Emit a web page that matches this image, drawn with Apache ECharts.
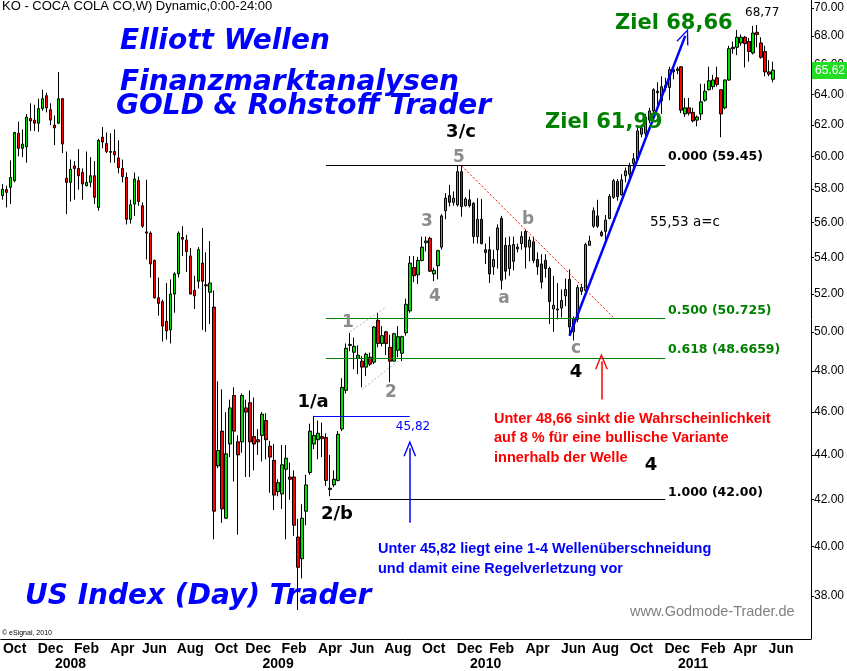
<!DOCTYPE html>
<html>
<head>
<meta charset="utf-8">
<script src="https://cdn.jsdelivr.net/npm/echarts@6/dist/echarts.min.js"></script>
<style>
html,body{margin:0;padding:0;background:#fff;}
#chart{width:847px;height:671px;}
</style>
</head>
<body>
<div id="chart"></div>
<script>
// ---- data: weekly KO candles (Sep 2007 - May 2011) ----
const startWeek = '2007-09-10';
const weekCount = 203;
const monthNames = ['Jan','Feb','Mar','Apr','May','Jun','Jul','Aug','Sep','Oct','Nov','Dec'];
const yTicks = [38,40,42,44,46,48,50,52,54,56,58,60,62,64,66,68,70];

const opens = [57.6,57.96,58.1,58.5,61.45,60.5,60.6,62.4,62.3,62.1,
63.05,63.9,62.97,61.98,62.1,63.7,58.65,58.4,59.4,59.25,
59.0,58.2,58.4,58.8,56.9,61.2,60.8,60.3,60.3,59.9,
59.25,58.7,56.2,57.1,58.5,57.0,55.47,55.4,53.85,51.8,
51.6,50.55,50.1,52.0,53.1,55.15,55.0,54.1,52.2,52.7,
53.7,52.5,52.1,51.3,43.5,45.1,41.2,44.5,46.8,44.6,
44.6,46.2,46.45,44.85,44.7,44.9,45.6,44.4,43.75,42.35,
42.25,43.35,43.0,43.0,40.4,39.5,41.5,43.2,44.5,44.7,
44.85,44.8,42.5,42.65,42.85,45.2,47.05,49.3,48.95,48.65,
48.5,48.2,48.7,48.45,50.6,49.4,50.0,49.2,48.5,49.05,
48.9,49.95,51.1,53.45,53.05,53.85,54.85,55.1,53.1,53.55,
54.6,56.7,57.6,57.2,57.05,59.05,57.0,57.35,57.15,55.2,
56.2,54.45,54.45,53.5,54.45,56.25,54.7,53.4,53.8,54.5,
54.8,55.5,54.6,54.9,53.9,53.65,53.85,53.4,51.2,51.2,
51.25,51.9,52.8,50.7,50.65,52.15,52.2,54.7,55.8,56.4,
55.45,55.5,56.25,57.5,58.45,57.65,58.8,58.9,59.55,59.8,
61.4,61.45,62.3,62.9,64.1,63.55,64.45,64.45,65.65,65.6,
65.85,62.7,63.1,62.8,62.3,62.7,63.6,64.3,64.5,65.1,
64.3,63.1,64.95,67.1,67.2,67.5,67.9,67.6,66.8,68.25,
67.5,66.9,65.5,65.0];

const closes = [57.98,57.8,58.7,61.5,60.5,60.77,62.5,62.25,62.1,63.05,
63.7,63.1,62.3,61.8,63.7,60.77,58.4,59.2,59.25,58.8,
58.3,58.4,58.8,57.5,61.0,60.9,60.3,60.25,60.1,59.3,
58.75,56.2,57.05,58.6,57.25,55.8,55.4,53.65,51.8,51.5,
50.3,50.05,52.0,53.1,55.4,55.05,54.35,52.0,51.9,54.45,
52.7,52.45,52.6,41.5,44.2,41.6,44.05,46.2,45.1,44.0,
46.8,46.0,44.6,44.5,44.6,45.9,44.7,43.9,42.2,42.75,
43.55,43.85,42.9,40.9,39.15,41.2,42.65,45.1,44.9,45.0,
44.75,42.85,42.45,42.9,44.95,47.2,49.15,49.35,49.25,48.8,
48.2,48.85,48.35,50.25,49.4,49.8,49.4,48.5,49.9,49.75,
49.75,51.45,53.7,53.0,53.85,54.6,54.95,53.25,53.3,54.4,
56.4,57.45,57.2,57.45,59.05,56.95,57.4,57.0,55.2,56.2,
54.8,54.3,53.1,53.9,55.7,52.75,53.25,54.7,54.75,54.6,
55.2,54.6,55.0,53.85,53.5,52.65,53.4,51.6,51.4,51.15,
51.65,52.25,50.25,50.0,52.35,52.35,54.75,54.95,56.7,55.8,
55.25,56.15,57.55,58.5,57.55,58.55,59.1,59.4,59.85,61.6,
61.8,62.5,62.9,64.3,64.2,64.5,64.6,65.65,65.5,65.7,
62.95,63.1,62.75,62.25,62.5,63.5,64.2,64.9,64.95,64.65,
62.7,64.95,67.1,67.2,67.9,67.9,67.45,66.9,68.2,68.1,
66.5,65.5,65.35,65.62];

const lows = [57.36,56.9,57.1,58.4,60.0,59.95,59.6,61.6,61.6,61.55,
62.9,62.8,61.98,60.7,62.05,60.2,56.5,57.25,57.36,57.96,
57.36,58.15,58.1,57.1,56.7,60.5,60.2,59.6,59.6,58.95,
58.4,55.9,55.95,56.4,57.0,55.7,53.9,52.9,51.75,50.85,
49.5,49.6,49.4,51.0,52.9,54.1,53.2,52.0,51.2,52.3,
50.1,50.0,50.4,40.3,43.4,41.0,41.17,43.9,42.8,40.5,
44.1,43.0,43.0,43.3,44.0,43.7,43.8,42.3,41.55,42.15,
41.6,40.3,42.0,40.45,37.45,38.7,40.9,43.1,44.26,43.8,
43.9,42.6,42.15,42.55,42.8,45.1,46.9,49.0,48.1,47.85,
47.2,47.75,48.25,48.35,49.2,49.25,48.8,47.45,48.5,48.7,
48.5,49.8,51.0,52.65,52.55,53.8,54.35,53.2,52.7,52.8,
54.46,56.2,56.95,57.0,56.95,56.35,56.95,56.9,54.8,54.8,
54.75,53.65,52.6,53.05,53.4,52.25,52.8,53.0,53.3,54.3,
54.45,53.4,53.8,53.7,53.05,52.3,52.9,50.4,50.0,50.65,
50.75,51.35,49.8,49.55,50.5,51.95,52.05,54.7,55.7,55.7,
55.2,55.0,56.2,57.4,57.3,57.6,58.4,58.7,59.0,59.7,
61.2,61.3,62.1,62.75,63.3,62.7,64.2,63.6,65.0,65.35,
62.75,62.5,62.6,62.15,61.9,62.3,63.5,64.25,64.3,64.5,
61.2,63.0,64.9,66.75,66.65,67.3,65.8,66.2,66.7,67.2,
66.4,65.2,65.2,64.8];

const highs = [58.3,58.2,59.75,61.55,62.2,61.7,62.7,63.4,63.3,63.7,
64.3,64.1,63.4,62.6,65.5,63.75,60.3,59.8,59.7,60.45,
59.25,60.3,59.95,59.7,61.1,61.85,61.5,61.45,61.7,61.0,
59.8,59.0,57.36,59.0,58.75,57.2,58.56,55.5,53.9,52.9,
51.7,52.6,52.8,53.2,55.5,55.8,55.3,54.55,53.0,54.6,
55.7,54.3,54.95,52.2,47.5,47.1,46.0,46.6,47.2,44.9,
46.9,46.6,47.05,46.7,45.2,46.0,45.95,44.65,44.5,42.9,
44.45,44.45,43.65,43.3,41.17,41.8,43.1,45.45,45.82,45.6,
45.5,45.0,44.0,43.3,45.1,47.65,49.4,49.95,49.7,49.3,
48.75,48.93,48.93,50.3,51.0,50.3,50.05,49.85,49.95,50.3,
49.8,51.75,54.1,54.1,54.05,55.2,55.2,55.2,53.45,54.45,
56.5,57.75,58.25,57.85,59.4,59.45,57.5,57.96,57.2,57.45,
57.4,54.8,55.2,54.45,55.9,56.4,55.15,55.2,55.2,54.8,
55.5,55.6,55.2,55.2,54.3,54.2,54.2,53.5,53.0,52.6,
52.25,52.85,53.35,50.8,52.5,52.55,54.85,55.25,56.9,57.35,
55.55,56.45,57.7,58.6,58.6,58.9,59.3,59.6,60.2,61.95,
62.0,62.7,63.1,64.4,64.8,65.2,65.1,65.85,65.85,65.85,
65.9,63.75,63.75,63.1,62.6,64.7,64.7,65.85,65.3,65.85,
64.3,65.0,67.3,67.6,68.42,68.1,68.0,67.85,68.7,68.77,
67.9,67.3,66.3,66.2];

// Fibonacci / target levels
const fibLevels = [59.45, 50.725, 48.6659, 42.00];
const wave1Level = 45.82;
const lastPrice = 65.62;

// ---- build categories (weekly dates) ----
const weeks = [];
const t0 = Date.parse(startWeek + 'T00:00:00Z');
for (let i = 0; i < weekCount; i++) {
  weeks.push(new Date(t0 + i * 7 * 86400000).toISOString().slice(0, 10));
}
const candles = opens.map((o, i) => [o, closes[i], lows[i], highs[i]]);

function isMonthLabel(idx, val) {
  const d = new Date(val + 'T00:00:00Z');
  return d.getUTCDate() <= 7 && (d.getUTCMonth() + 1) % 2 === 0;
}
function isYearLabel(idx, val) {
  const d = new Date(val + 'T00:00:00Z');
  return d.getUTCDate() <= 7 && d.getUTCMonth() === 0;
}

const chevron = 'path://M0,16 L7,0 L14,16 L12.4,16 L7,3.6 L1.6,16 Z';
function seg(a, b, style, arrow) {
  const s = {coord: a, symbol: 'none'};
  const e = {coord: b, symbol: arrow ? chevron : 'none', symbolSize: arrow ? [13, 16] : 0};
  s.lineStyle = style;
  return [s, e];
}
const black = {color: '#000', width: 1, type: 'solid'};
const green = {color: '#008000', width: 1, type: 'solid'};

const markLines = [
  seg([81, fibLevels[0]], [166, fibLevels[0]], black),
  seg([81, fibLevels[1]], [166, fibLevels[1]], green),
  seg([81, fibLevels[2]], [166, fibLevels[2]], green),
  seg([82, fibLevels[3]], [166, fibLevels[3]], black),
  seg([78, wave1Level], [102, wave1Level], {color: '#0000ff', width: 1, type: 'solid'}),
  seg([115, 59.4], [153, 50.75], {color: '#ff0000', width: 1, type: [2, 2]}),
  seg([87, 50.0], [96, 51.3], {color: '#b4b4b4', width: 1, type: [2, 2]}),
  seg([90, 47.1], [99, 48.5], {color: '#b4b4b4', width: 1, type: [2, 2]}),
  seg([142, 49.8], [171, 68.0], {color: '#0000ff', width: 2.5, type: 'solid'}, true),
  seg([150, 46.6], [150, 48.5], {color: '#ff0000', width: 1.5, type: 'solid'}, true),
  seg([102, 41.0], [102, 44.3], {color: '#0000ff', width: 1.5, type: 'solid'}, true)
];

function txt(text, x, y, font, fill, align) {
  return {type: 'text', x: x, y: y, z: 100, silent: true,
    style: {text: text, font: font, fill: fill, textAlign: align || 'left', textVerticalAlign: 'middle'}};
}
const bigFont = 'italic bold 28px "DejaVu Sans"';
const waveFont = 'bold 18px "DejaVu Sans"';
const grayFont = 'bold 17px "DejaVu Sans"';
const gray = '#8c8c8c';
const noteFont = 'bold 14.5px "Liberation Sans"';
const fibFont = 'bold 12.5px "DejaVu Sans"';

const graphics = [
  txt('KO - COCA COLA CO,W) Dynamic,0:00-24:00', 2, 6, '13px "Liberation Sans"', '#000'),
  txt('Elliott Wellen', 120, 42, bigFont, '#0000ff'),
  txt('Finanzmarktanalysen', 120, 83, bigFont, '#0000ff'),
  txt('GOLD & Rohstoff Trader', 116, 107, bigFont, '#0000ff'),
  txt('US Index (Day) Trader', 25, 597, bigFont, '#0000ff'),
  txt('1/a', 313, 402, waveFont, '#000', 'center'),
  txt('2/b', 337, 514, waveFont, '#000', 'center'),
  txt('3/c', 461, 132, waveFont, '#000', 'center'),
  txt('4', 576, 372, waveFont, '#000', 'center'),
  txt('4', 651, 465, waveFont, '#000', 'center'),
  txt('1', 348, 323, grayFont, gray, 'center'),
  txt('2', 391, 393, grayFont, gray, 'center'),
  txt('3', 427, 222, grayFont, gray, 'center'),
  txt('4', 435, 297, grayFont, gray, 'center'),
  txt('5', 459, 158, grayFont, gray, 'center'),
  txt('a', 504, 299, grayFont, gray, 'center'),
  txt('b', 528, 220, grayFont, gray, 'center'),
  txt('c', 576, 349, grayFont, gray, 'center'),
  txt('Ziel 61,99', 545, 123, 'bold 21px "DejaVu Sans"', '#008000'),
  txt('Ziel 68,66', 615, 24, 'bold 21px "DejaVu Sans"', '#008000'),
  txt('68,77', 745, 13, '12px "DejaVu Sans"', '#000'),
  txt('55,53 a=c', 650, 222, '13.5px "DejaVu Sans"', '#000'),
  txt('0.000 (59.45)', 668, 157, fibFont, '#000'),
  txt('0.500 (50.725)', 668, 311, fibFont, '#008000'),
  txt('0.618 (48.6659)', 668, 350, fibFont, '#008000'),
  txt('1.000 (42.00)', 668, 493, fibFont, '#000'),
  txt('45,82', 413, 427, '12px "DejaVu Sans"', '#0000ff', 'center'),
  txt('Unter 48,66 sinkt die Wahrscheinlichkeit', 494, 419, noteFont, '#ff0000'),
  txt('auf 8 % für eine bullische Variante', 494, 438, noteFont, '#ff0000'),
  txt('innerhalb der Welle', 494, 458, noteFont, '#ff0000'),
  txt('Unter 45,82 liegt eine 1-4 Wellenüberschneidung', 378, 549, noteFont, '#0000ff'),
  txt('und damit eine Regelverletzung vor', 378, 569, noteFont, '#0000ff'),
  txt('www.Godmode-Trader.de', 630, 612, '14.5px "Liberation Sans"', '#808080'),
  txt('© eSignal, 2010', 2, 633, '7px "Liberation Sans"', '#000'),
  {type: 'rect', z: 100, silent: true, shape: {x: 812, y: 62, width: 35, height: 17}, style: {fill: '#22dd22'}},
  txt(lastPrice.toFixed(2), 815, 71, '12px "Liberation Sans"', '#ffffff')
];

const chart = echarts.init(document.getElementById('chart'), null, {renderer: 'canvas'});
chart.setOption({
  animation: false,
  backgroundColor: '#fff',
  grid: {left: 0, right: 35, top: 0, bottom: 31, containLabel: false},
  xAxis: [{
    type: 'category', data: weeks, boundaryGap: true,
    axisLine: {show: true, lineStyle: {color: '#000', width: 1}},
    axisTick: {show: false}, splitLine: {show: false},
    axisLabel: {interval: isMonthLabel, formatter: v => monthNames[new Date(v + 'T00:00:00Z').getUTCMonth()],
      color: '#000', fontFamily: '"Liberation Sans Narrow","Liberation Sans"', fontWeight: 'bold', fontSize: 14, margin: 3}
  }, {
    type: 'category', data: weeks, boundaryGap: true, position: 'bottom', offset: 15,
    axisLine: {show: false}, axisTick: {show: false}, splitLine: {show: false},
    axisLabel: {interval: isYearLabel, formatter: v => v.slice(0, 4),
      color: '#000', fontFamily: '"Liberation Sans Narrow","Liberation Sans"', fontWeight: 'bold', fontSize: 14, margin: 3}
  }],
  yAxis: {
    type: 'log', logBase: 10, position: 'right', min: 36.34, max: 70.58, scale: true,
    axisLine: {show: true, lineStyle: {color: '#000', width: 1}},
    axisTick: {show: true, length: 3, customValues: yTicks, lineStyle: {color: '#000'}},
    splitLine: {show: false},
    axisLabel: {customValues: yTicks, formatter: v => Number(v).toFixed(2), color: '#000',
      fontFamily: '"Liberation Sans"', fontSize: 12, margin: 3}
  },
  series: [{
    type: 'candlestick', data: candles, barWidth: 3,
    itemStyle: {color: '#00e000', color0: '#ff0000', borderColor: '#000', borderColor0: '#000',
      borderColorDoji: '#000', borderWidth: 1},
    markLine: {silent: true, symbol: ['none', 'none'], label: {show: false}, animation: false,
      emphasis: {disabled: true}, data: markLines}
  }],
  graphic: graphics
});
</script>
</body>
</html>
